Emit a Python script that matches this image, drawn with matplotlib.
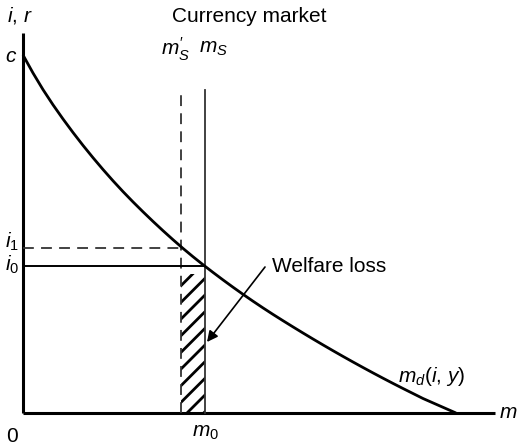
import matplotlib
matplotlib.use("Agg")
import matplotlib.pyplot as plt
from matplotlib.patches import Rectangle

plt.rcParams['font.family'] = ['Liberation Sans', 'DejaVu Sans']
plt.rcParams['mathtext.fontset'] = 'custom'
plt.rcParams['mathtext.rm'] = 'Liberation Sans'
plt.rcParams['mathtext.it'] = 'Liberation Sans:italic'
plt.rcParams['hatch.linewidth'] = 2.0
plt.rcParams['hatch.color'] = 'black'

# Money demand curve m_d(i, y)
demand_m = [0, 10, 20, 30, 40, 50, 60, 70, 80, 90, 100, 110, 120, 130, 140, 150,
            160, 170, 180, 190, 200, 210, 220, 230, 240, 250, 260, 270, 280, 290,
            300, 310, 320, 330, 340, 350, 360, 370, 380, 390, 400, 410, 420, 433]
demand_i = [358, 340.0, 323.4, 308.2, 294.0, 280.5, 267.6, 255.3, 243.5, 232.2,
            221.4, 211.1, 201.2, 191.6, 182.3, 173.3, 164.6, 156.3, 148.3, 140.6,
            133.1, 125.8, 118.7, 111.8, 105.1, 98.6, 92.3, 86.1, 80.0, 74.0,
            68.1, 62.3, 56.6, 51.0, 45.5, 40.1, 34.8, 29.6, 24.5, 19.5,
            14.5, 10.1, 5.7, 0]

# Key levels
i0 = 147
i1 = 165
m0 = 182
m_s_prime = 158
supply_top = 323

fig = plt.figure(figsize=(5.17, 4.46), dpi=100)
ax = fig.add_axes([0, 0, 1, 1])
ax.set_xlim(-23, 494)
ax.set_ylim(-33, 413)
ax.axis('off')

# Axes
ax.plot([0, 0], [0, 380], color='black', lw=2.2, solid_capstyle='butt')
ax.plot([0, 472], [0, 0], color='black', lw=2.2, solid_capstyle='butt')

# Hatched welfare-loss area
ax.add_patch(Rectangle((m_s_prime, 0), m0 - m_s_prime, i0 - 8, facecolor='none',
                       edgecolor='black', linewidth=0, hatch='//', zorder=1))

# Supply lines
ax.plot([m0, m0], [0, supply_top], color='#333333', lw=1.3)
ax.plot([m_s_prime, m_s_prime], [0, supply_top], color='#333333', lw=1.3,
        dashes=(6, 4))

# Interest levels
ax.plot([0, m0], [i0, i0], color='black', lw=1.4)
ax.plot([0, m_s_prime], [i1, i1], color='#333333', lw=1.3, dashes=(6, 4))

# Demand curve
ax.plot(demand_m, demand_i, color='black', lw=2.0, solid_capstyle='butt',
        solid_joinstyle='round')

fs = 15
ax.text(-3, 398, '$i$, $r$', fontsize=fs, ha='center', va='center')
ax.text(-12, 357, '$c$', fontsize=fs, ha='center', va='center')
ax.text(152, 364, r"$m^{\prime}_{S}$", fontsize=fs, ha='center', va='center')
ax.text(190, 364, '$m_S$', fontsize=fs, ha='center', va='center')
ax.text(-11, 171, '$i_1$', fontsize=fs, ha='center', va='center')
ax.text(-11, 148, '$i_0$', fontsize=fs, ha='center', va='center')
ax.text(-11, -23, '0', fontsize=fs, ha='center', va='center')
ax.text(183, -20, '$m_0$', fontsize=fs, ha='center', va='center')
ax.text(476, 0, '$m$', fontsize=fs, ha='left', va='center')
ax.text(375, 36, '$m_d(i$, $y)$', fontsize=fs, ha='left', va='center')
ax.text(226, 397, 'Currency market', fontsize=fs, ha='center', va='center')
ax.text(249, 147, 'Welfare loss', fontsize=fs, ha='left', va='center')

ax.annotate('', xy=(184, 71), xytext=(242, 146),
            arrowprops=dict(arrowstyle='-|>', color='black', lw=1.2,
                            mutation_scale=16, shrinkA=0, shrinkB=0))

fig.savefig('out.png', dpi=100)
